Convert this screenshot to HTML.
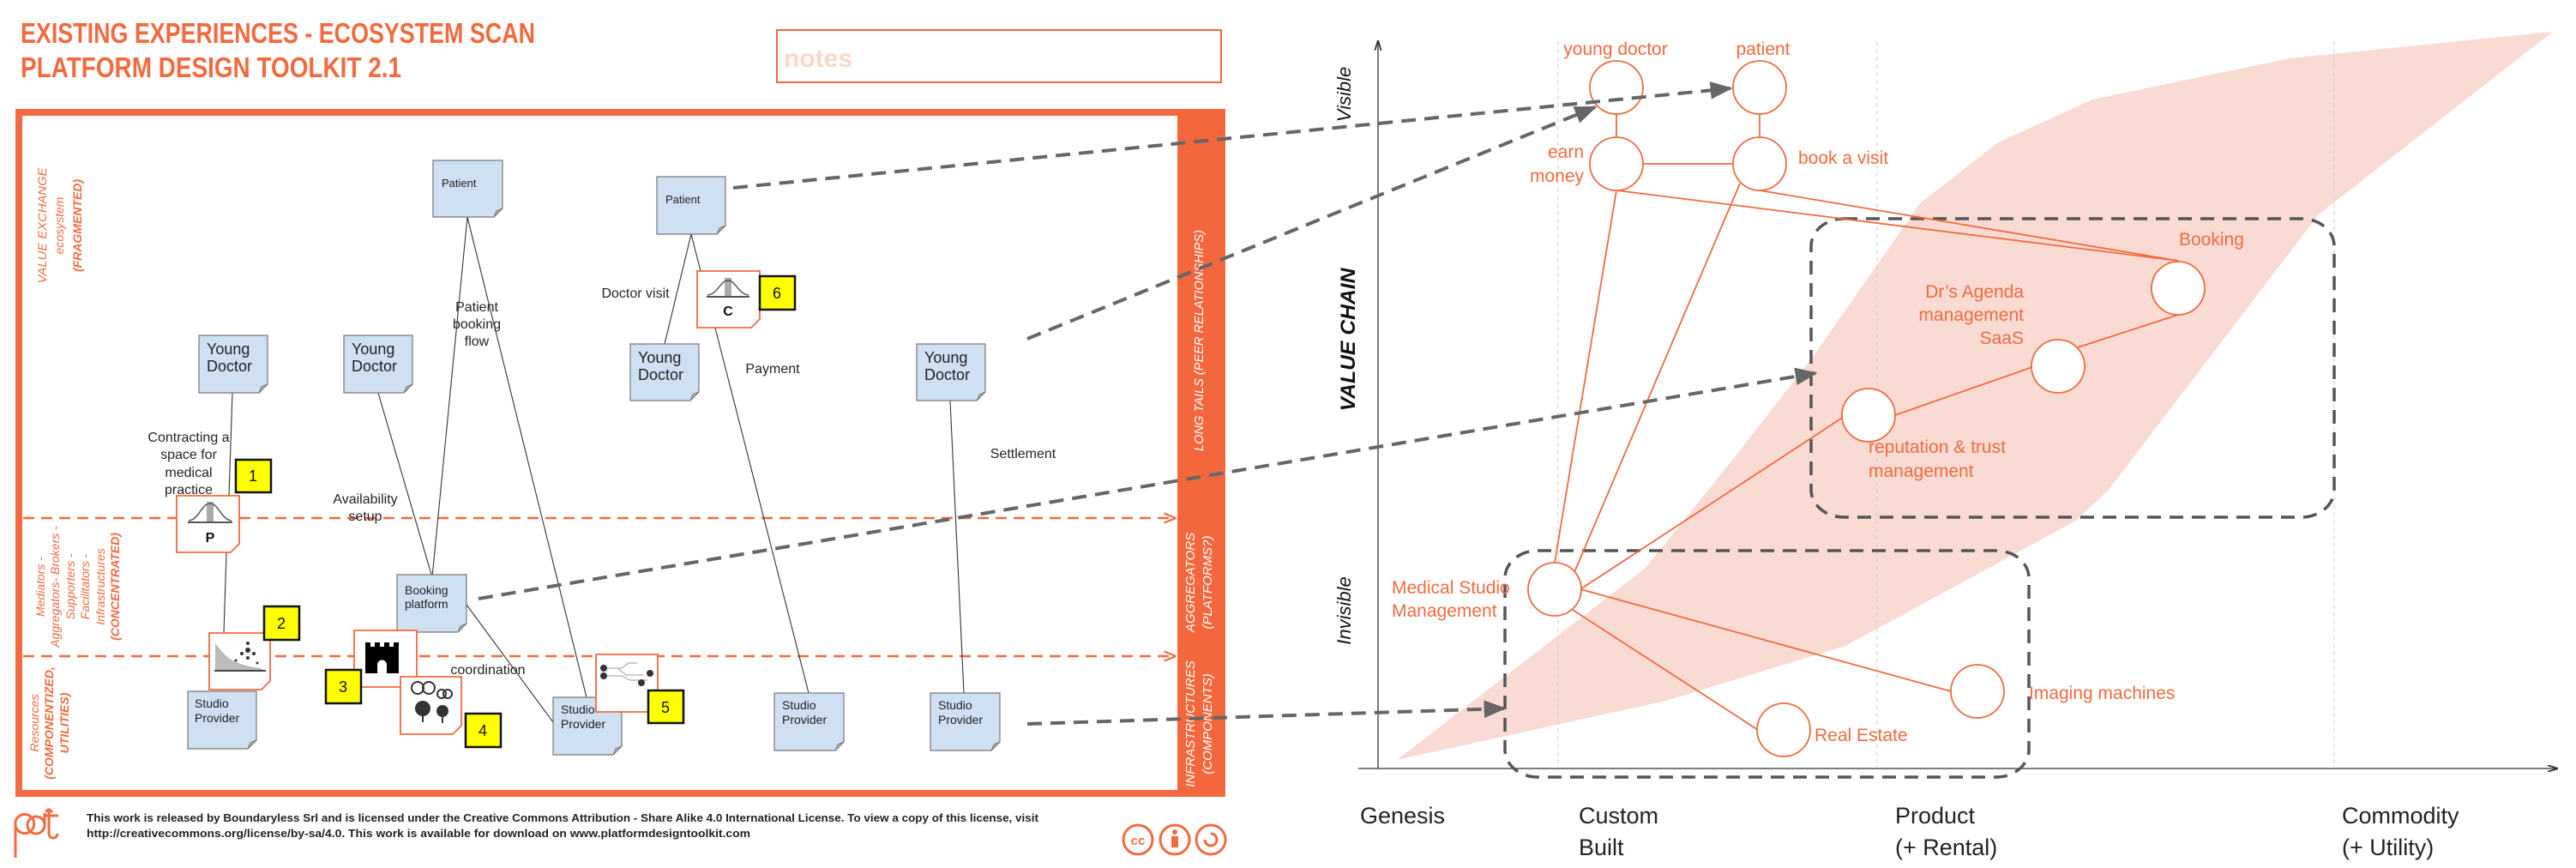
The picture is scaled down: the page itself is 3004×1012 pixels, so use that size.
<!DOCTYPE html>
<html><head><meta charset="utf-8"><style>
html,body{margin:0;padding:0;background:#fff;}
svg{display:block;}
text{font-family:"Liberation Sans",sans-serif;}
</style></head><body>
<svg width="3004" height="1012" viewBox="0 0 3004 1012" xmlns="http://www.w3.org/2000/svg">
<defs>
<marker id="ga" viewBox="0 0 10 10" refX="9" refY="5" markerWidth="6" markerHeight="6" orient="auto" markerUnits="userSpaceOnUse"><path d="M0,0 L10,5 L0,10 z" fill="#666"/></marker>
<marker id="gab" viewBox="0 0 10 10" refX="9" refY="5" markerWidth="26" markerHeight="26" orient="auto" markerUnits="userSpaceOnUse"><path d="M0,1 L10,5 L0,9 z" fill="#666"/></marker>
<marker id="oa" viewBox="0 0 10 10" refX="9" refY="5" markerWidth="14" markerHeight="14" orient="auto" markerUnits="userSpaceOnUse"><path d="M0,1 L10,5 L0,9" fill="none" stroke="#f26a3f" stroke-width="1.5"/></marker>
<marker id="ka" viewBox="0 0 10 10" refX="9" refY="5" markerWidth="12" markerHeight="12" orient="auto" markerUnits="userSpaceOnUse"><path d="M0,2 L10,5 L0,8" fill="none" stroke="#333" stroke-width="1.5"/></marker>
</defs>

<!-- Title -->
<text x="24" y="50" font-size="33" font-weight="bold" fill="#f26a3f" textLength="600" lengthAdjust="spacingAndGlyphs">EXISTING EXPERIENCES - ECOSYSTEM SCAN</text>
<text x="24" y="90" font-size="33" font-weight="bold" fill="#f26a3f" textLength="444" lengthAdjust="spacingAndGlyphs">PLATFORM DESIGN TOOLKIT 2.1</text>
<rect x="906" y="35" width="518" height="61" fill="#fff" stroke="#f26a3f" stroke-width="2"/>
<text x="914" y="78" font-size="30" font-weight="bold" fill="#fad6cb">notes</text>

<!-- Frame -->
<rect x="22" y="131" width="1403" height="794" fill="none" stroke="#f26a3f" stroke-width="8"/>
<rect x="1373" y="128" width="54" height="800" fill="#f4673d"/>
<!-- band labels -->
<text transform="translate(1403,397) rotate(-90)" text-anchor="middle" font-size="15" fill="#fff" font-style="italic" textLength="258" lengthAdjust="spacingAndGlyphs">LONG TAILS (PEER RELATIONSHIPS)</text>
<text transform="translate(1393,679) rotate(-90)" text-anchor="middle" font-size="15" fill="#fff" font-style="italic">AGGREGATORS</text>
<text transform="translate(1413,679) rotate(-90)" text-anchor="middle" font-size="15" fill="#fff" font-style="italic">(PLATFORMS?)</text>
<text transform="translate(1393,844) rotate(-90)" text-anchor="middle" font-size="15" fill="#fff" font-style="italic">INFRASTRUCTURES</text>
<text transform="translate(1413,844) rotate(-90)" text-anchor="middle" font-size="15" fill="#fff" font-style="italic">(COMPONENTS)</text>

<!-- left labels -->
<g font-size="14" fill="#f26a3f" font-style="italic" text-anchor="middle">
<text transform="translate(54,263) rotate(-90)" textLength="135" lengthAdjust="spacingAndGlyphs">VALUE EXCHANGE</text>
<text transform="translate(74,263) rotate(-90)">ecosystem</text>
<text transform="translate(95,263) rotate(-90)" font-weight="bold">(FRAGMENTED)</text>
<text transform="translate(52,684) rotate(-90)">Mediators -</text>
<text transform="translate(69,684) rotate(-90)">Aggregators- Brokers -</text>
<text transform="translate(87,684) rotate(-90)">Supporters -</text>
<text transform="translate(104,684) rotate(-90)">Facilitators -</text>
<text transform="translate(122,684) rotate(-90)">Infrastructures</text>
<text transform="translate(139,684) rotate(-90)" font-weight="bold">(CONCENTRATED)</text>
<text transform="translate(45,843) rotate(-90)">Resources</text>
<text transform="translate(62,843) rotate(-90)" font-weight="bold">(COMPONENTIZED,</text>
<text transform="translate(80,843) rotate(-90)" font-weight="bold">UTILITIES)</text>
</g>

<!-- orange dashed lines -->
<line x1="27" y1="604" x2="1370" y2="604" stroke="#f26a3f" stroke-width="2.5" stroke-dasharray="13 8" marker-end="url(#oa)"/>
<line x1="27" y1="765" x2="1370" y2="765" stroke="#f26a3f" stroke-width="2.5" stroke-dasharray="13 8" marker-end="url(#oa)"/>

<!-- connectors -->
<g stroke="#333" stroke-width="1.1" fill="none">
<line x1="271" y1="458" x2="267" y2="578"/>
<line x1="264" y1="644" x2="261" y2="738"/>
<line x1="545" y1="253" x2="504" y2="673"/>
<line x1="545" y1="253" x2="684" y2="813"/>
<line x1="441" y1="458" x2="504" y2="673"/>
<line x1="544" y1="705" x2="645" y2="842"/>
<line x1="806" y1="273" x2="775" y2="401"/>
<line x1="806" y1="273" x2="943" y2="808"/>
<line x1="1108" y1="467" x2="1124" y2="808"/>
</g>

<!-- notes -->
<g id="notes" stroke="#777" stroke-width="1.2">
<path d="M505,187 h81 v56 l-10,10 h-71 z" fill="#cfe0f2"/>
<path d="M766,206 h80 v57 l-10,10 h-70 z" fill="#cfe0f2"/>
<path d="M232,391 h80 v57 l-10,10 h-70 z" fill="#cfe0f2"/>
<path d="M401,391 h80 v57 l-10,10 h-70 z" fill="#cfe0f2"/>
<path d="M735,401 h80 v56 l-10,10 h-70 z" fill="#cfe0f2"/>
<path d="M1069,401 h80 v56 l-10,10 h-70 z" fill="#cfe0f2"/>
<path d="M463,670 h81 v57 l-10,10 h-71 z" fill="#cfe0f2"/>
<path d="M219,806 h80 v57 l-10,10 h-70 z" fill="#cfe0f2"/>
<path d="M645,813 h80 v57 l-10,10 h-70 z" fill="#cfe0f2"/>
<path d="M903,808 h81 v57 l-10,10 h-71 z" fill="#cfe0f2"/>
<path d="M1085,808 h81 v57 l-10,10 h-71 z" fill="#cfe0f2"/>
</g>
<g fill="#a9bdd3" stroke="#777" stroke-width="1"><path d="M576,253 l3,-7 7,-3 z"/><path d="M836,273 l3,-7 7,-3 z"/><path d="M302,458 l3,-7 7,-3 z"/><path d="M471,458 l3,-7 7,-3 z"/><path d="M805,467 l3,-7 7,-3 z"/><path d="M1139,467 l3,-7 7,-3 z"/><path d="M534,737 l3,-7 7,-3 z"/><path d="M289,873 l3,-7 7,-3 z"/><path d="M715,880 l3,-7 7,-3 z"/><path d="M974,875 l3,-7 7,-3 z"/><path d="M1156,875 l3,-7 7,-3 z"/></g>
<g fill="#222">
<text x="515" y="218" font-size="13">Patient</text>
<text x="776" y="237" font-size="13">Patient</text>
<text x="241" y="413" font-size="18">Young</text><text x="241" y="433" font-size="18">Doctor</text>
<text x="410" y="413" font-size="18">Young</text><text x="410" y="433" font-size="18">Doctor</text>
<text x="744" y="423" font-size="18">Young</text><text x="744" y="443" font-size="18">Doctor</text>
<text x="1078" y="423" font-size="18">Young</text><text x="1078" y="443" font-size="18">Doctor</text>
<text x="472" y="693" font-size="14">Booking</text><text x="472" y="709" font-size="14">platform</text>
<text x="227" y="825" font-size="14">Studio</text><text x="227" y="842" font-size="14">Provider</text>
<text x="654" y="832" font-size="14">Studio</text><text x="654" y="849" font-size="14">Provider</text>
<text x="912" y="827" font-size="14">Studio</text><text x="912" y="844" font-size="14">Provider</text>
<text x="1094" y="827" font-size="14">Studio</text><text x="1094" y="844" font-size="14">Provider</text>
</g>

<!-- icon cards -->
<g stroke="#f26a3f" stroke-width="1.8" fill="#fff">
<path d="M206,578 h73 v56 l-10,10 h-63 z"/>
<path d="M244,738 h71 v56 l-10,10 h-61 z"/>
<path d="M413,735 h73 v66 h-73 z"/>
<path d="M467,789 h71 v57 l-10,10 h-61 z"/>
<path d="M695,763 h72 v67 h-72 z"/>
<path d="M813,316 h73 v56 l-10,10 h-63 z"/>
</g>
<!-- P icon -->
<g><rect x="241" y="585" width="8" height="24" fill="#aaa"/><path d="M220,607 C232,606 235,587 245,587 C255,587 258,606 270,607" fill="none" stroke="#555" stroke-width="1.5"/><line x1="219" y1="609" x2="271" y2="609" stroke="#555" stroke-width="2"/><text x="245" y="632" font-size="16" font-weight="bold" text-anchor="middle" fill="#111">P</text></g>
<!-- C icon -->
<g><rect x="845" y="324" width="8" height="22" fill="#aaa"/><path d="M825,344 C837,343 840,327 849,327 C858,327 861,343 873,344" fill="none" stroke="#555" stroke-width="1.5"/><line x1="824" y1="346" x2="874" y2="346" stroke="#555" stroke-width="2"/><text x="849" y="368" font-size="16" font-weight="bold" text-anchor="middle" fill="#111">C</text></g>
<!-- icon 2 -->
<g><path d="M251,750 C260,760 265,775 305,779 L305,781 L251,781 z" fill="#bbb"/><line x1="250" y1="782" x2="310" y2="782" stroke="#444" stroke-width="2"/><circle cx="289" cy="758" r="3" fill="#333"/><circle cx="282" cy="762" r="2" fill="#333"/><circle cx="296" cy="762" r="2" fill="#333"/><circle cx="289" cy="750" r="2" fill="#333"/><circle cx="289" cy="767" r="2" fill="#333"/><circle cx="275" cy="770" r="1.5" fill="#333"/><circle cx="300" cy="773" r="1.5" fill="#333"/></g>
<!-- castle -->
<path d="M426,749 h6 v5 h5 v-5 h6 v5 h5 v-5 h6 v5 h5 v-5 h6 v36 h-14 v-10 a5,5 0 0 0 -11,0 v10 h-14 z" fill="#000"/>
<!-- icon 4 -->
<g fill="#333"><circle cx="487" cy="802" r="7" fill="none" stroke="#333" stroke-width="2"/><circle cx="500" cy="802" r="7" fill="none" stroke="#333" stroke-width="2"/><circle cx="493" cy="826" r="9"/><path d="M493,834 v8" stroke="#333" stroke-width="2"/><circle cx="515" cy="809" r="5" fill="none" stroke="#333" stroke-width="2"/><circle cx="522" cy="809" r="5" fill="none" stroke="#333" stroke-width="2"/><circle cx="516" cy="829" r="7"/><path d="M516,836 v7" stroke="#333" stroke-width="2"/></g>
<!-- icon 5 -->
<g><path d="M705,779 h20 l8,-6 h10 M705,788 h20 l10,5 h20 M720,779 l10,8 h20" fill="none" stroke="#bbb" stroke-width="1.5"/><circle cx="704" cy="779" r="4" fill="#333"/><circle cx="704" cy="788" r="4" fill="#333"/><circle cx="758" cy="785" r="4" fill="#333"/><circle cx="748" cy="796" r="4" fill="#333"/></g>

<!-- yellow badges -->
<g stroke="#111" stroke-width="2.5" fill="#ffff00">
<rect x="275" y="536" width="41" height="38"/>
<rect x="308" y="707" width="41" height="39"/>
<rect x="380" y="781" width="41" height="39"/>
<rect x="543" y="832" width="41" height="39"/>
<rect x="756" y="805" width="41" height="38"/>
<rect x="886" y="322" width="41" height="39"/>
</g>
<g font-size="18" text-anchor="middle" fill="#111">
<text x="295" y="561">1</text><text x="328" y="733">2</text><text x="400" y="807">3</text><text x="563" y="858">4</text><text x="776" y="831">5</text><text x="906" y="348">6</text>
</g>

<!-- connector labels -->
<g font-size="16" fill="#222" text-anchor="middle">
<text x="556" y="363">Patient</text><text x="556" y="383">booking</text><text x="556" y="403">flow</text>
<text x="741" y="347">Doctor visit</text>
<text x="901" y="435">Payment</text>
<text x="1193" y="534">Settlement</text>
<text x="220" y="515">Contracting a</text><text x="220" y="535">space for</text><text x="220" y="556">medical</text><text x="220" y="576">practice</text>
<text x="426" y="587">Availability</text><text x="426" y="607">setup</text>
<text x="569" y="786">coordination</text>
</g>

<!-- footer -->
<g fill="none" stroke="#f26a3f" stroke-width="3">
<path d="M18,1000 V958 a11,11 0 1 1 0,5"/>
<circle cx="42" cy="962" r="10"/><path d="M52,962 V948 M57,943 V972 a5,5 0 0 0 10,0 M51,951 h17 M57,943 l-4,4 M57,943 l4,4"/>
</g>
<text x="101" y="958" font-size="13" font-weight="bold" fill="#222" textLength="1110" lengthAdjust="spacingAndGlyphs">This work is released by Boundaryless Srl and is licensed under the Creative Commons Attribution - Share Alike 4.0 International License. To view a copy of this license, visit</text>
<text x="101" y="976" font-size="13" font-weight="bold" fill="#222" textLength="774" lengthAdjust="spacingAndGlyphs">http://creativecommons.org/license/by-sa/4.0. This work is available for download on www.platformdesigntoolkit.com</text>
<g fill="none" stroke="#f26a3f" stroke-width="3">
<circle cx="1327" cy="979" r="17"/><circle cx="1370" cy="979" r="17"/><circle cx="1412" cy="979" r="17"/>
<path d="M1405,979 a7,7 0 1 0 7,-7"/>
</g>
<text x="1327" y="985" font-size="15" font-weight="bold" fill="#f26a3f" text-anchor="middle">cc</text>
<circle cx="1370" cy="970" r="3" fill="#f26a3f"/><rect x="1366" y="975" width="8" height="13" fill="#f26a3f"/>

<!-- RIGHT: Wardley -->
<polygon points="1629,886 1919,662 2018,539 2114,416 2239,237 2330,166 2440,116 2670,68 2977,37 2704,250 2459,571 2421,607 2152,753 1943,817" fill="#f9dbd3"/>
<g stroke="#ccc" stroke-width="1" stroke-dasharray="5 4">
<line x1="1817" y1="48" x2="1817" y2="896"/><line x1="2189" y1="48" x2="2189" y2="896"/><line x1="2722" y1="48" x2="2722" y2="896"/>
</g>
<line x1="1607" y1="896" x2="1607" y2="48" stroke="#333" stroke-width="1.3" marker-end="url(#ka)"/>
<line x1="1584" y1="896" x2="2982" y2="896" stroke="#333" stroke-width="1.3" marker-end="url(#ka)"/>

<g font-size="27" fill="#222">
<text x="1586" y="960">Genesis</text>
<text x="1841" y="960">Custom</text><text x="1841" y="997">Built</text>
<text x="2210" y="960">Product</text><text x="2210" y="997">(+ Rental)</text>
<text x="2731" y="960">Commodity</text><text x="2731" y="997">(+ Utility)</text>
</g>
<g fill="#111" text-anchor="middle">
<text transform="translate(1575,110) rotate(-90)" font-size="22" font-style="italic">Visible</text>
<text transform="translate(1580,396) rotate(-90)" font-size="24" font-style="italic" font-weight="bold" textLength="167" lengthAdjust="spacingAndGlyphs">VALUE CHAIN</text>
<text transform="translate(1575,712) rotate(-90)" font-size="22" font-style="italic">Invisible</text>
</g>

<!-- dashed rounded rects -->
<g fill="none" stroke="#555" stroke-width="3.5" stroke-dasharray="16 10">
<rect x="2112" y="255" width="610" height="348" rx="38" ry="32"/>
<rect x="1755" y="642" width="611" height="264" rx="38" ry="32"/>
</g>

<!-- orange links -->
<g stroke="#f26a3f" stroke-width="1.8" fill="none">
<line x1="1885" y1="133" x2="1885" y2="160"/>
<line x1="2052" y1="133" x2="2052" y2="160"/>
<line x1="1916" y1="191" x2="2021" y2="191"/>
<line x1="1885" y1="222" x2="2540" y2="304"/>
<line x1="2052" y1="222" x2="2540" y2="304"/>
<line x1="1885" y1="222" x2="1813" y2="656"/>
<line x1="2029" y1="214" x2="1836" y2="667"/>
<line x1="2540" y1="367" x2="2423" y2="405"/>
<line x1="2370" y1="428" x2="2210" y2="484"/>
<line x1="2150" y1="486" x2="1843" y2="687"/>
<line x1="1843" y1="687" x2="2275" y2="806"/>
<line x1="1834" y1="711" x2="2050" y2="851"/>
</g>
<g fill="#fff" stroke="#f26a3f" stroke-width="1.8">
<ellipse cx="1885" cy="102" rx="31" ry="31"/><ellipse cx="2052" cy="102" rx="31" ry="31"/>
<ellipse cx="1885" cy="191" rx="31" ry="31"/><ellipse cx="2052" cy="191" rx="31" ry="31"/>
<ellipse cx="2540" cy="336" rx="31" ry="31"/><ellipse cx="2400" cy="427" rx="31" ry="31"/>
<ellipse cx="2179" cy="484" rx="31" ry="31"/><ellipse cx="1813" cy="687" rx="31" ry="31"/>
<ellipse cx="2306" cy="806" rx="31" ry="31"/><ellipse cx="2080" cy="851" rx="31" ry="31"/>
</g>
<g font-size="21" fill="#f26a3f">
<text x="1884" y="64" text-anchor="middle">young doctor</text>
<text x="2056" y="64" text-anchor="middle">patient</text>
<text x="1847" y="184" text-anchor="end">earn</text><text x="1847" y="212" text-anchor="end">money</text>
<text x="2097" y="191">book a visit</text>
<text x="2541" y="286">Booking</text>
<text x="2360" y="347" text-anchor="end">Dr’s Agenda</text><text x="2360" y="374" text-anchor="end">management</text><text x="2360" y="401" text-anchor="end">SaaS</text>
<text x="2179" y="528">reputation &amp; trust</text><text x="2179" y="556">management</text>
<text x="1623" y="692">Medical Studio</text><text x="1623" y="719">Management</text>
<text x="2366" y="815">Imaging machines</text>
<text x="2116" y="864">Real Estate</text>
</g>

<!-- gray dashed arrows -->
<g stroke="#666" stroke-width="4" stroke-dasharray="17 10" fill="none">
<line x1="855" y1="219" x2="2018" y2="103" marker-end="url(#gab)"/>
<line x1="1198" y1="395" x2="1860" y2="125" marker-end="url(#gab)"/>
<line x1="558" y1="698" x2="2117" y2="435" marker-end="url(#gab)"/>
<line x1="1198" y1="844" x2="1754" y2="826" marker-end="url(#gab)"/>
</g>
</svg>
</body></html>
